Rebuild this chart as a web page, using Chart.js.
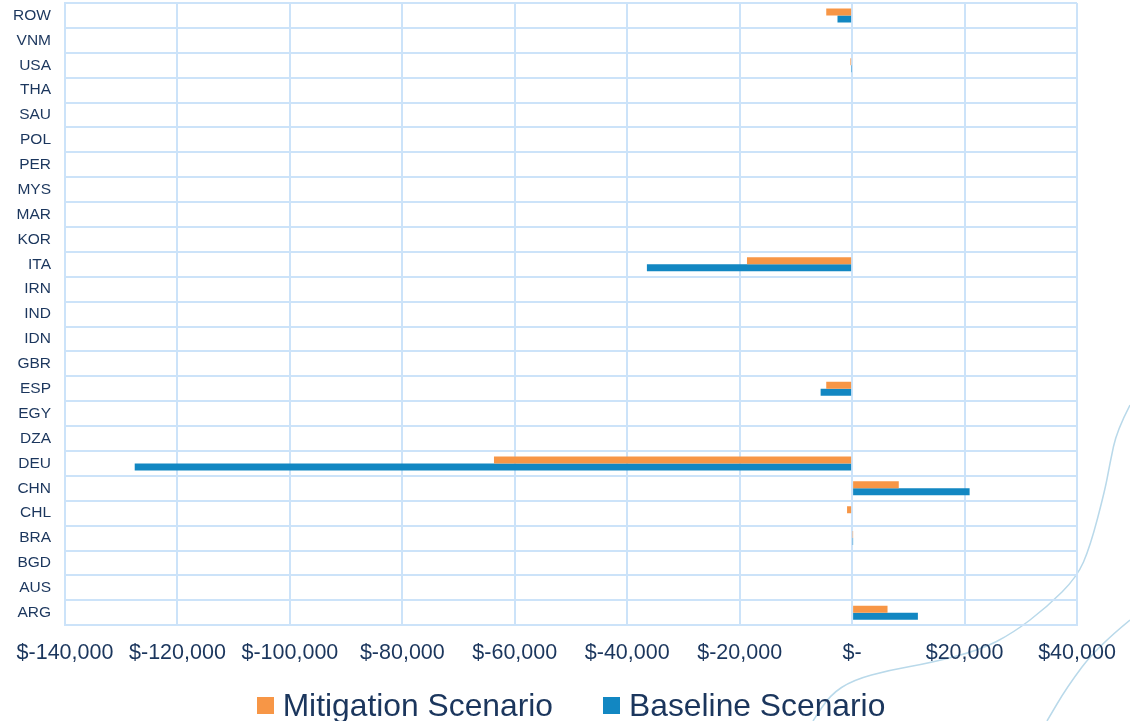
<!DOCTYPE html>
<html>
<head>
<meta charset="utf-8">
<script src="https://cdn.jsdelivr.net/npm/chart.js@4/dist/chart.umd.min.js"></script>
<style>
    body { margin: 0; background: #fff; }
    #wrap { width: 1130px; height: 721px; position: relative; }
    #legend {
        position: absolute; left: 0; top: 688px; width: 1130px; height: 34px;
        display: flex; justify-content: center; align-items: center;
        padding-left: 12px; box-sizing: border-box;
        font-family: 'Liberation Sans', Arial, sans-serif; font-size: 31.8px; line-height: 34px;
        color: #1b365d; pointer-events: none;
    }
    #legend .item { display: flex; align-items: center; }
    #legend .item + .item { margin-left: 50px; }
    #legend .box { width: 17px; height: 17px; margin-right: 9px; }
</style>
</head>
<body>
<div id="wrap">
    <canvas id="chart"></canvas>
    <div id="legend"></div>
</div>
<script>
// Countries, top to bottom as shown
const countries = ['ROW', 'VNM', 'USA', 'THA', 'SAU', 'POL', 'PER', 'MYS', 'MAR', 'KOR', 'ITA', 'IRN', 'IND',
    'IDN', 'GBR', 'ESP', 'EGY', 'DZA', 'DEU', 'CHN', 'CHL', 'BRA', 'BGD', 'AUS', 'ARG'];
const mitigation = [-4600, 0, -300, 0, 0, 0, 0, 0, 0, 0, -18700, 0, 0,
    0, 0, -4600, 0, 0, -63700, 8300, -900, 100, 0, 0, 6300];
const baseline = [-2600, 0, -100, 0, 0, 0, 0, 0, 0, 0, -36500, 0, 0,
    0, 0, -5600, 0, 0, -127600, 20900, 0, 100, 0, 0, 11700];
const xTicks = [-140000, -120000, -100000, -80000, -60000, -40000, -20000, 0, 20000, 40000];

const textColor = '#1b365d';
const gridColor = '#cce3f9';
const fontFamily = 'Liberation Sans, Arial, sans-serif';

// faint decorative swirls behind the chart
const swirls = {
    id: 'swirls',
    beforeDraw(chart) {
        const ctx = chart.ctx;
        const paths = [
            [[1130, 405], [1117, 430], [1110, 463], [1105, 490], [1090, 547], [1077, 577], [1047, 607],
             [1013, 633], [980, 650], [930, 663], [890, 670], [853, 680], [830, 695], [813, 721]],
            [[1130, 620], [1097, 647], [1067, 687], [1047, 721]]
        ];
        ctx.save();
        ctx.strokeStyle = '#b9d9ea';
        ctx.lineWidth = 1.5;
        paths.forEach(p => {
            ctx.beginPath();
            ctx.moveTo(p[0][0], p[0][1]);
            for (let i = 1; i < p.length - 1; i++) {
                const mx = (p[i][0] + p[i + 1][0]) / 2;
                const my = (p[i][1] + p[i + 1][1]) / 2;
                ctx.quadraticCurveTo(p[i][0], p[i][1], mx, my);
            }
            const last = p[p.length - 1];
            ctx.lineTo(last[0], last[1]);
            ctx.stroke();
        });
        ctx.restore();
    }
};

const chart = new Chart(document.getElementById('chart'), {
    type: 'bar',
    data: {
        labels: countries,
        datasets: [{
            label: 'Mitigation Scenario',
            data: mitigation,
            backgroundColor: '#f79646'
        }, {
            label: 'Baseline Scenario',
            data: baseline,
            backgroundColor: '#1287c2'
        }]
    },
    options: {
        indexAxis: 'y',
        responsive: true,
        maintainAspectRatio: false,
        animation: false,
        categoryPercentage: 0.56,
        barPercentage: 1,
        layout: { padding: { top: 3, right: 53, bottom: 40, left: 0 } },
        scales: {
            x: {
                min: -140000,
                max: 40000,
                afterBuildTicks: (scale) => { scale.ticks = xTicks.map(v => ({ value: v })); },
                afterFit: (scale) => {
                    scale.paddingLeft = 0;
                    scale.paddingRight = 0;
                },
                grid: { color: gridColor, lineWidth: 2, drawTicks: false },
                border: { color: gridColor, width: 2 },
                ticks: {
                    color: textColor,
                    padding: 15,
                    maxRotation: 0,
                    autoSkip: false,
                    font: { family: fontFamily, size: 21.5 },
                    callback: (v) => v === 0 ? '$-' : '$' + Number(v).toLocaleString('en-US')
                }
            },
            y: {
                afterFit: (scale) => {
                    scale.width = 65;
                    scale.paddingTop = 0;
                    scale.paddingBottom = 0;
                },
                grid: { color: gridColor, lineWidth: 2, drawTicks: false },
                border: { color: gridColor, width: 2 },
                ticks: {
                    color: textColor,
                    padding: 14,
                    autoSkip: false,
                    font: { family: fontFamily, size: 15.5 }
                }
            }
        },
        plugins: {
            legend: { display: false },
            tooltip: { enabled: false }
        }
    },
    plugins: [swirls]
});

// legend below the plot, built from the datasets
const legendEl = document.getElementById('legend');
chart.data.datasets.forEach(ds => {
    const item = document.createElement('div');
    item.className = 'item';
    const box = document.createElement('span');
    box.className = 'box';
    box.style.background = ds.backgroundColor;
    const label = document.createElement('span');
    label.textContent = ds.label;
    item.appendChild(box);
    item.appendChild(label);
    legendEl.appendChild(item);
});
</script>
</body>
</html>
